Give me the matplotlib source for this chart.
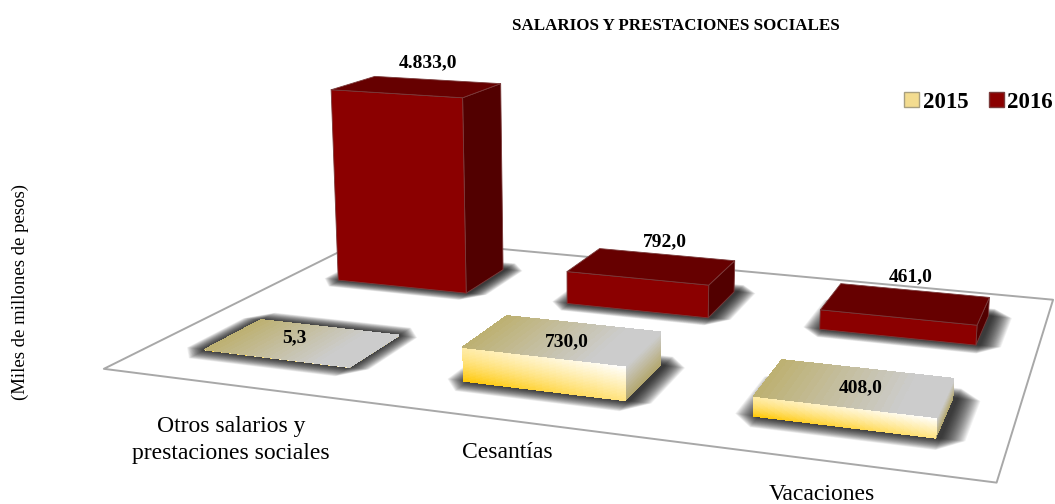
import numpy as np
import matplotlib
matplotlib.use("Agg")
import matplotlib.pyplot as plt
from matplotlib.patches import Patch
from mpl_toolkits.mplot3d.art3d import Poly3DCollection

W, H = 1055, 504
plt.rcParams["font.family"] = "Liberation Serif"

# data
categories = ["Otros salarios y\nprestaciones sociales", "Cesantías", "Vacaciones"]
values_2015 = [5.3, 730.0, 408.0]
values_2016 = [4833.0, 792.0, 461.0]

# camera, fitted to the floor and bar corners of the original picture
ELEV, AZIM, ROLL, ZOOM = 13.6911, -70.9727, -0.1937, 3.2251
BOX = (1, 0.6566, 0.2711)
SCALE, CX, CY = 1651.53, 611.83, 279.91
BAR_W, BAR_D = 0.5708, 0.3847
ROW_Y = [0.4917, 1.4868]

RED_FRONT, RED_TOP, RED_SIDE = "#8b0000", "#660000", "#520000"
RED_EDGE = "#7a3a3a"
FLOOR_EDGE = "#a8a8a8"


def fmt(v):
    return f"{v:,.1f}".replace(",", "#").replace(".", ",").replace("#", ".")


def mix(a, b, t):
    return tuple(np.array(a) * (1 - t) + np.array(b) * t)


def top_2015(u, v):
    return mix((0.74, 0.69, 0.44), (0.80, 0.80, 0.80), min(1, u * 1.25))


def front_2015(u, v):
    t = v * (1 - 0.5 * u) + 0.35 * (1 - u) * (1 - v) ** 2
    return mix((1, 1, 1), (1, 0.78, 0.0), min(1, t))


def side_2015(u, v):
    return mix((0.80, 0.80, 0.80), (0.70, 0.65, 0.42), v)


def add_poly(ax, polys, zorder, **kw):
    col = Poly3DCollection(polys, zorder=zorder, **kw)
    col.set_clip_on(False)
    ax.add_collection3d(col)


def gradient_face(ax, corners, color_fn, zorder, n=24):
    # corners: top-left, top-right, bottom-right, bottom-left
    c = np.array(corners, float)
    quads, cols = [], []
    for i in range(n):
        for j in range(n):
            u0, u1, v0, v1 = i / n, (i + 1) / n, j / n, (j + 1) / n
            pts = []
            for u, v in ((u0, v0), (u1, v0), (u1, v1), (u0, v1)):
                pts.append((1 - v) * ((1 - u) * c[0] + u * c[1]) + v * ((1 - u) * c[3] + u * c[2]))
            quads.append(pts)
            cols.append(color_fn((u0 + u1) / 2, (v0 + v1) / 2))
    add_poly(ax, quads, zorder, facecolors=cols, edgecolors=cols, linewidths=0.6, antialiaseds=False)


def flat_face(ax, corners, color, zorder):
    add_poly(ax, [corners], zorder, facecolors=color, edgecolors=RED_EDGE, linewidths=0.6)


def draw_shadow(ax, x0, x1, y0, y1, zorder, shift):
    # stacked see-through layers with cut corners, it reads as a soft blur
    n = 24
    for k in range(n):
        m = 1 - k / n
        dx, dy = 0.075 * m, 0.105 * m
        l, r, f, b = x0 - dx + shift, x1 + dx + shift, y0 - dy, y1 + dy
        poly = [(l + dx, f, 0), (r - dx, f, 0), (r, f + dy, 0), (r, b - dy, 0),
                (r - dx, b, 0), (l + dx, b, 0), (l, b - dy, 0), (l, f + dy, 0)]
        add_poly(ax, [poly], zorder, facecolors=(0, 0, 0, 0.055), edgecolors="none")


def draw_bar(ax, cat, row, val, zorder):
    x0, x1 = cat + 0.5 - BAR_W / 2, cat + 0.5 + BAR_W / 2
    y0, y1 = ROW_Y[row] - BAR_D / 2, ROW_Y[row] + BAR_D / 2
    draw_shadow(ax, x0, x1, y0, y1, zorder, 0.0 if val < 50 else 0.015)
    top = [(x0, y1, val), (x1, y1, val), (x1, y0, val), (x0, y0, val)]
    front = [(x0, y0, val), (x1, y0, val), (x1, y0, 0), (x0, y0, 0)]
    side = [(x1, y0, val), (x1, y1, val), (x1, y1, 0), (x1, y0, 0)]
    if row == 1:
        flat_face(ax, side, RED_SIDE, zorder + 1)
        flat_face(ax, front, RED_FRONT, zorder + 1)
        flat_face(ax, top, RED_TOP, zorder + 1)
    else:
        gradient_face(ax, side, side_2015, zorder + 1)
        gradient_face(ax, front, front_2015, zorder + 1)
        gradient_face(ax, top, top_2015, zorder + 1)


fig = plt.figure(figsize=(W / 100, H / 100), dpi=100)
side_px = SCALE * 0.185
ax = fig.add_axes([(CX - SCALE * 0.095) / W, (CY - SCALE * 0.095) / H, side_px / W, side_px / H],
                  projection="3d", computed_zorder=False)
ax.set_xlim(0, 3, view_margin=0)
ax.set_ylim(0, 2, view_margin=0)
ax.set_zlim(0, 5000, view_margin=0)
ax.set_proj_type("persp", focal_length=1)
ax.view_init(elev=ELEV, azim=AZIM, roll=ROLL)
ax.set_box_aspect(BOX, zoom=ZOOM)
ax.set_axis_off()
ax.patch.set_alpha(0)

floor = [(0, 0, 0), (3, 0, 0), (3, 2, 0), (0, 2, 0)]
add_poly(ax, [floor], 1, facecolors="white", edgecolors=FLOOR_EDGE, linewidths=1.4)

# back row first so the front row paints over it
for i, v in enumerate(values_2016):
    draw_bar(ax, i, 1, v, 10 + i * 2)
for i, v in enumerate(values_2015):
    draw_bar(ax, i, 0, v, 20 + i * 2)

# labels
label_px = [(294, 338), (567, 342), (861, 388)]
label_px_2016 = [(428, 63), (665, 242), (911, 277)]
for v, (x, y) in zip(values_2015 + values_2016, label_px + label_px_2016):
    fig.text(x / W, 1 - y / H, fmt(v), ha="center", va="center", fontsize=14, fontweight="bold", color="black",
             zorder=50)

cat_px = [(231, 440), (507, 453), (822, 495)]
for name, (x, y) in zip(categories, cat_px):
    fig.text(x / W, 1 - y / H, name, ha="center", va="center", fontsize=17, linespacing=1.35)

fig.text(675.5 / W, 1 - 26 / H, "SALARIOS Y PRESTACIONES SOCIALES", ha="center", va="center",
         fontsize=12.2, fontweight="bold")
fig.text(20 / W, 1 - 292 / H, "(Miles de millones de pesos)", rotation=90, ha="center", va="center", fontsize=13.5)

handles = [Patch(facecolor="#f3dc90", edgecolor="#a89f80", label="2015"),
           Patch(facecolor=RED_FRONT, edgecolor=RED_EDGE, label="2016")]
fig.legend(handles=handles, loc="center right", bbox_to_anchor=(1053 / W, 1 - 102 / H), ncols=2, frameon=False,
           prop={"weight": "bold", "size": 16.5}, handlelength=0.65, handleheight=0.65, handletextpad=0.15,
           columnspacing=0.9, borderpad=0, borderaxespad=0)

fig.savefig("out.png", dpi=100)
